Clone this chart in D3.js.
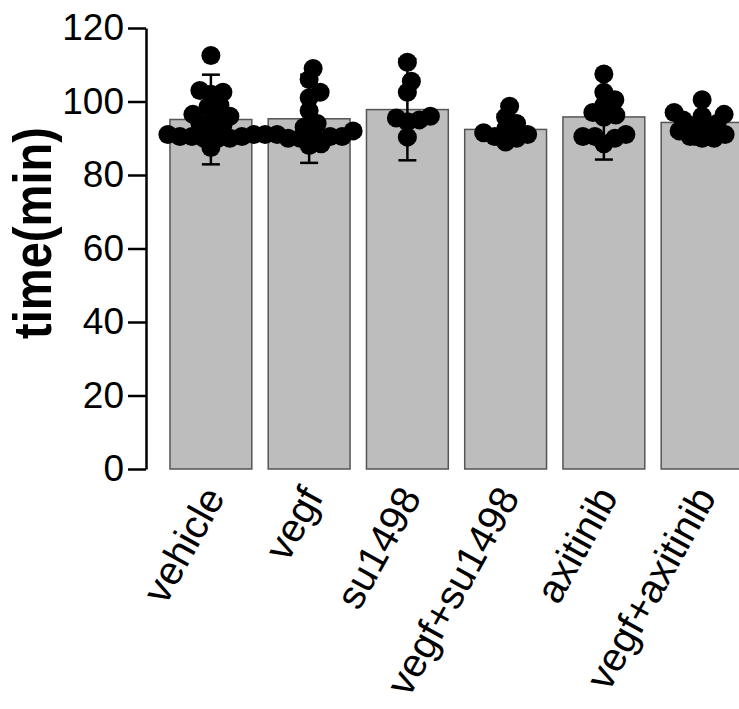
<!DOCTYPE html>
<html>
<head>
<meta charset="utf-8">
<script src="https://cdn.jsdelivr.net/npm/d3@7"></script>
<style>
  body { margin: 0; background: #fff; }
  svg { display: block; font-family: "Liberation Sans", Arial, sans-serif; }
</style>
</head>
<body>
<svg class="chart" width="739" height="709"></svg>
<script>

const groups = ['vehicle', 'vegf', 'su1498', 'vegf+su1498', 'axitinib', 'vegf+axitinib'];

// bar heights (mean) and error (SD)
const means = [95.1, 95.3, 97.8, 92.4, 95.8, 94.3];
const sds   = [12.2, 12.0, 13.8, 4.1, 11.6, 6.0];

// individual points
const vehicle = [112.5, 103, 102.5, 102, 99, 98.5, 96.5, 96, 96, 94, 93.5, 93, 91, 91, 90.5, 90.5, 90.5, 90, 90, 90, 87.5];
const vegf = [109, 106, 102.5, 101, 97.5, 94, 93, 92, 91, 91, 91, 90.5, 90.5, 90, 90, 88.5, 88];
const su1498 = [110.7, 105.5, 102.5, 96, 95.5, 95, 94.5, 90.3];
const vegfSu1498 = [98.7, 95.7, 94, 92.5, 91.5, 91, 90.5, 90, 89];
const axitinib = [107.5, 102.5, 100.5, 99, 97, 96.3, 95.7, 91, 90.5, 90.5, 90, 88.5];
const vegfAxitinib = [100.5, 97, 96.5, 96, 95, 94, 93.5, 93, 92, 91, 90.5, 90, 90];

const points = [vehicle, vegf, su1498, vegfSu1498, axitinib, vegfAxitinib];

const yTicks = [0, 20, 40, 60, 80, 100, 120];

const svg = d3.select('.chart');

const x = d3.scaleBand()
    .domain(groups)
    .range([146, 767])
    .paddingInner(0.167)
    .paddingOuter(0.244);

const y = d3.scaleLinear()
    .domain([0, 120])
    .range([469, 28]);

// bars
svg.append('g')
    .selectAll('rect')
    .data(groups)
    .join('rect')
    .attr('x', d => x(d))
    .attr('y', (d, i) => y(means[i]))
    .attr('width', x.bandwidth())
    .attr('height', (d, i) => y(0) - y(means[i]))
    .attr('fill', '#bdbdbd')
    .attr('stroke', '#555')
    .attr('stroke-width', 1.5);

// simple beeswarm so dots with close values spread sideways
const r = 9.5;
const minDist = 11.5;

function swarm(values, cx) {
    const placed = [];
    values.slice().sort((a, b) => a - b).forEach(v => {
        const py = y(v);
        for (let k = 0; k < 400; k++) {
            const off = (k % 2 ? 1 : -1) * Math.ceil(k / 2);
            const px = cx + off;
            const ok = placed.every(p => Math.hypot(p.x - px, p.y - py) >= minDist);
            if (ok) { placed.push({ x: px, y: py }); break; }
        }
    });
    return placed;
}

// error bars
const err = svg.append('g')
    .attr('stroke', '#000')
    .attr('stroke-width', 2.5);

groups.forEach((g, i) => {
    const cx = x(g) + x.bandwidth() / 2;
    const hi = y(means[i] + sds[i]);
    const lo = y(means[i] - sds[i]);
    err.append('line').attr('x1', cx).attr('x2', cx).attr('y1', hi).attr('y2', lo);
    err.append('line').attr('x1', cx - 9).attr('x2', cx + 9).attr('y1', hi).attr('y2', hi);
    err.append('line').attr('x1', cx - 9).attr('x2', cx + 9).attr('y1', lo).attr('y2', lo);
});

// dots
groups.forEach((g, i) => {
    const cx = x(g) + x.bandwidth() / 2;
    svg.append('g')
        .selectAll('circle')
        .data(swarm(points[i], cx))
        .join('circle')
        .attr('cx', d => d.x)
        .attr('cy', d => d.y)
        .attr('r', r)
        .attr('fill', '#000');
});

// y axis
const yAxis = svg.append('g')
    .attr('transform', 'translate(146,0)')
    .call(d3.axisLeft(y).tickValues(yTicks).tickSize(18).tickPadding(4).tickSizeOuter(0));

yAxis.select('.domain').attr('stroke-width', 2.5);
yAxis.selectAll('.tick line').attr('stroke-width', 2.5);
yAxis.selectAll('.tick text')
    .attr('font-size', 37)
    .attr('fill', '#000')
    .attr('font-family', '"Liberation Sans", Arial, sans-serif');

// x labels
svg.append('g')
    .selectAll('text')
    .data(groups)
    .join('text')
    .attr('transform', d => `translate(${x(d) + x.bandwidth() / 2 + 15},${497}) rotate(-61)`)
    .attr('text-anchor', 'end')
    .attr('font-size', 40)
    .attr('fill', '#000')
    .text(d => d);

// y title
svg.append('text')
    .attr('transform', 'translate(51,233) rotate(-90)')
    .attr('text-anchor', 'middle')
    .attr('font-size', 54)
    .attr('font-weight', 'bold')
    .attr('textLength', 212)
    .attr('lengthAdjust', 'spacingAndGlyphs')
    .attr('fill', '#000')
    .text('time(min)');

</script>
</body>
</html>
